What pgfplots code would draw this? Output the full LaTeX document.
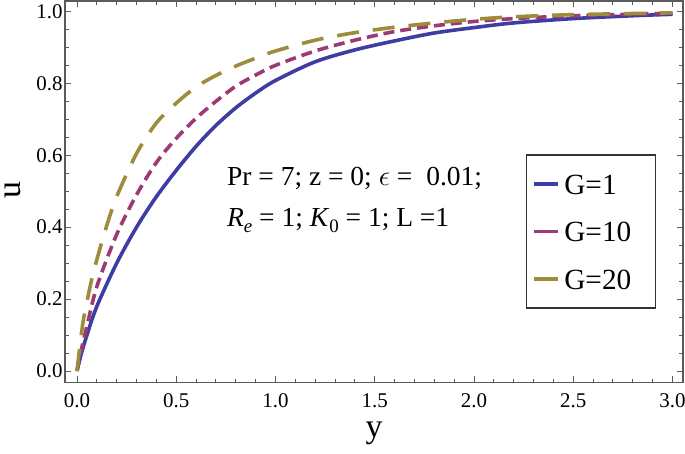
\documentclass[border=0pt]{standalone}
\usepackage{fontspec}
\setmainfont{Liberation Serif}
\usepackage{pgfplots}
\pgfplotsset{compat=1.18}
\definecolor{gOne}{RGB}{61,61,163}
\definecolor{gTen}{RGB}{158,58,115}
\definecolor{gTwenty}{RGB}{156,140,60}
\definecolor{frameGray}{RGB}{90,90,90}

\begin{document}
\begin{tikzpicture}
\begin{axis}[
    scale only axis,
    width=309bp, height=190.65bp,
    xmin=-0.0605, xmax=3.053,
    ymin=-0.0314, ymax=1.029,
    xtick={0,0.5,...,3}, minor x tick num=4,
    ytick={0,0.2,...,1}, minor y tick num=3,
    tick align=inside,
    major tick length=3.2bp, minor tick length=1.8bp,
    axis line style={frameGray, line width=0.6bp},
    every tick/.style={frameGray, line width=0.5bp},
    tick label style={font=\fontsize{10.5}{12}\selectfont},
    /pgf/number format/assume math mode=true,
    /pgf/number format/fixed,
    /pgf/number format/fixed zerofill,
    /pgf/number format/precision=1,
    yticklabel style={inner xsep=1bp},
    xticklabel style={yshift=-2bp},
    xlabel={y}, ylabel={u},
    label style={font=\fontsize{17}{20}\selectfont},
    xlabel style={at={(rel axis cs:0.5,-0.1435)}, anchor=base},
    ylabel style={at={(rel axis cs:-0.084,0.504)}, anchor=center},
    clip=false,
    legend cell align=left,
    legend image code/.code={\draw[#1, solid] (0bp,0bp) -- (11.7bp,0bp);},
    legend style={at={(rel axis cs:0.7455,0.5976)}, anchor=north west,
        draw=black!80, line width=0.6bp,
        font=\fontsize{14.7}{17}\selectfont,
        inner xsep=3bp, inner ysep=5.5bp, row sep=5.75bp,
        nodes={text height=14bp, text depth=4bp, inner ysep=0bp,
               inner xsep=2.5bp, text width=40bp}},
]
\addplot[gOne, line width=1.8bp, smooth] coordinates {
    (0,0) (0.02,0.045) (0.05,0.10) (0.1,0.18) (0.2,0.30) (0.3,0.40) (0.4,0.485)
    (0.5,0.558) (0.6,0.625) (0.7,0.683) (0.8,0.732) (0.9,0.773)
    (1.0,0.808) (1.2,0.860) (1.4,0.893) (1.6,0.918)
    (1.8,0.940) (2.0,0.955) (2.2,0.968) (2.5,0.980) (2.8,0.988) (3.0,0.992)
};
\addlegendentry{G=1}
\addplot[gTen, line width=1.8bp, smooth, dash pattern=on 5.5bp off 3bp] coordinates {
    (0,0) (0.02,0.055) (0.05,0.125) (0.1,0.235) (0.2,0.38) (0.3,0.49) (0.4,0.58)
    (0.5,0.647) (0.6,0.703) (0.7,0.750) (0.8,0.792) (0.9,0.823)
    (1.0,0.850) (1.2,0.890) (1.4,0.920) (1.6,0.944) (1.8,0.960)
    (2.0,0.972) (2.2,0.980) (2.5,0.988) (3.0,0.995)
};
\addlegendentry{G=10}
\addplot[gTwenty, line width=1.8bp, smooth, dash pattern=on 11bp off 7bp] coordinates {
    (0,0) (0.03,0.135) (0.07,0.245) (0.1,0.31) (0.15,0.405) (0.2,0.485)
    (0.3,0.605) (0.4,0.69) (0.5,0.745) (0.6,0.79) (0.7,0.822) (0.8,0.848)
    (0.9,0.870) (1.0,0.890) (1.2,0.920) (1.4,0.941) (1.6,0.956)
    (1.8,0.968) (2.0,0.978) (2.2,0.985) (2.5,0.991) (3.0,0.996)
};
\addlegendentry{G=20}
\node[anchor=base west, inner sep=0, font=\fontsize{13.8}{16}\selectfont]
    at (axis cs:0.754,0.5167) {Pr = 7; z = 0; $\epsilon$ =\ \ 0.01;};
\node[anchor=base west, inner sep=0, font=\fontsize{13.8}{16}\selectfont]
    at (axis cs:0.754,0.4008) {\textit{R}\raisebox{-0.45ex}{\fontsize{9.5}{11}\selectfont\textit{e}} = 1; \textit{K}\raisebox{-0.45ex}{\fontsize{9.5}{11}\selectfont 0} = 1; L =1};
\coordinate (bbsw) at (rel axis cs:-0.1052,-0.188);
\coordinate (bbne) at (rel axis cs:1.0032,1.0026);
\end{axis}
\pgfresetboundingbox
\path[use as bounding box] (bbsw) rectangle (bbne);
\end{tikzpicture}
\end{document}
